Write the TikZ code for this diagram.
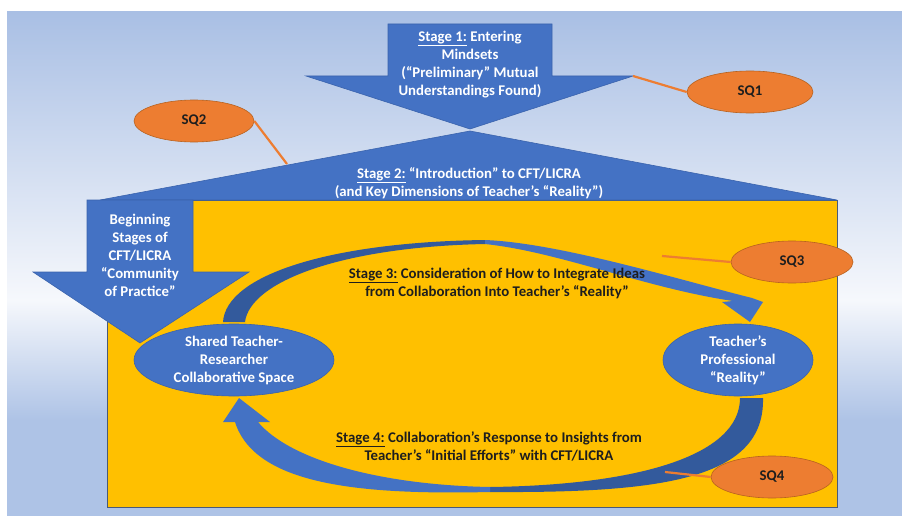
\documentclass[tikz,border=0pt]{standalone}
\usepackage{fontspec}
\setmainfont{Carlito}
\usetikzlibrary{shapes.geometric}

\definecolor{bgtop}{HTML}{A9BFE4}
\definecolor{bgmid}{HTML}{F6F8FC}
\definecolor{bgbot}{HTML}{AEC3E6}
\definecolor{blueA}{HTML}{4472C4}
\definecolor{blueD}{HTML}{335A9C}
\definecolor{blueEdge}{HTML}{3A63AD}
\definecolor{gold}{HTML}{FFC000}
\definecolor{orangeQ}{HTML}{ED7D31}
\definecolor{orangeEdge}{HTML}{B8621F}
\definecolor{frameEdge}{HTML}{4A5A78}
\definecolor{ink}{HTML}{1E1E1E}

\newcommand\txtfont{\fontsize{14.8}{18}\selectfont\bfseries}

\tikzset{
  blueshape/.style={fill=blueA, draw=blueEdge, line width=0.6pt},
  bandlight/.style={fill=blueA},
  banddark/.style={fill=blueD},
  whitetext/.style={text=white, font=\txtfont, align=center, inner sep=0pt},
  darktext/.style={text=ink, font=\txtfont, align=center, inner sep=0pt},
  bluebubble/.style={ellipse, fill=blueA, draw=blueEdge, line width=0.6pt, inner sep=0pt},
  sqbubble/.style={ellipse, fill=orangeQ, draw=orangeEdge, line width=0.6pt, text=ink,
    font=\txtfont, inner sep=0pt, minimum width=122pt, minimum height=42pt},
  sqlink/.style={draw=orangeQ, line width=2.2pt},
}

\begin{document}
\begin{tikzpicture}[x=1pt,y=-1pt]
\useasboundingbox (0,0) rectangle (902,516);

% backdrop: blue fading to white and back to blue
\fill[white] (0,0) rectangle (902,516);
\shade[top color=bgtop, bottom color=bgmid] (7,12) rectangle (902,300);
\shade[top color=bgmid, bottom color=bgbot] (7,300) rectangle (902,420);
\fill[bgbot] (7,420) rectangle (902,516);

% the house: yellow body and blue roof
\draw[fill=gold, draw=frameEdge, line width=0.8pt] (107,200) rectangle (837,507);
\path[blueshape] (100,200) -- (470,131) -- (837,200) -- cycle;

% stage 1 down arrow
\path[blueshape] (388,24) -- (552,24) -- (552,76) -- (633,76) -- (470,129)
  -- (306,76) -- (388,76) -- cycle;

% beginning stages down arrow
\path[blueshape] (87,200) -- (193,200) -- (193,272) -- (249,272) -- (140,343)
  -- (33,272) -- (87,272) -- cycle;

% stage 3 curved arrow (left half darker)
\path[banddark] (223,322) .. controls (226,275) and (330,242) .. (485,240)
  -- (485,244) .. controls (340,247) and (250,282) .. (245,322) -- cycle;
\path[bandlight] (485,240) .. controls (560,243) and (680,280) .. (752,298)
  -- (763,302) -- (750,322) -- (722,302) -- (733,301)
  .. controls (645,288) and (560,252) .. (485,244) -- cycle;

% stage 4 curved arrow (right half darker)
\path[banddark] (763,398) .. controls (765,480) and (660,493) .. (490,492)
  -- (490,487) .. controls (640,485) and (740,455) .. (740,398) -- cycle;
\path[bandlight] (490,492) .. controls (360,495) and (255,485) .. (235,422)
  -- (223,422) -- (239,398) -- (270,422) -- (258,422)
  .. controls (290,460) and (380,485) .. (490,487) -- cycle;

% the two spaces
\node[bluebubble, minimum width=200pt, minimum height=72pt] (shared) at (234,360) {};
\node[whitetext] (sharedtxt) at (shared.center) {Shared Teacher-\\Researcher\\Collaborative Space};
\node[bluebubble, minimum width=150pt, minimum height=72pt] (reality) at (738,360) {};
\node[whitetext] (realitytxt) at (reality.center) {Teacher’s\\Professional\\“Reality”};

% stage labels
\node[whitetext] (s1txt) at (470,64.5) {\underline{Stage 1:} Entering\\Mindsets\\(“Preliminary” Mutual\\Understandings Found)};
\node[whitetext] (s2txt) at (469,183) {\underline{Stage 2:} “Introduction” to CFT/LICRA\\(and Key Dimensions of Teacher’s “Reality”)};
\node[whitetext] (begintxt) at (140,255) {Beginning\\Stages of\\CFT/LICRA\\“Community\\of Practice"};
\node[darktext] (s3txt) at (497,283) {\underline{Stage 3:} Consideration of How to Integrate Ideas\\from Collaboration Into Teacher’s “Reality”};
\node[darktext] (s4txt) at (489,446) {\underline{Stage 4:} Collaboration’s Response to Insights from\\Teacher’s “Initial Efforts” with CFT/LICRA};

% sub-question bubbles and their links
\node[sqbubble, minimum width=126pt] (sq1) at (750,92) {SQ1};
\node[sqbubble, minimum width=120pt] (sq2) at (194,121) {SQ2};
\node[sqbubble] (sq3) at (792,262) {SQ3};
\node[sqbubble] (sq4) at (772,477) {SQ4};

\coordinate (c1) at (633,76);
\coordinate (c2) at (287,164);
\coordinate (c3) at (662,256);
\coordinate (c4) at (665,472);
\draw[sqlink] (c1) -- (sq1.west);
\draw[sqlink] (sq2.east) -- (c2);
\draw[sqlink] (c3) -- (sq3.west);
\draw[sqlink] (c4) -- (sq4.west);
\end{tikzpicture}
\end{document}
